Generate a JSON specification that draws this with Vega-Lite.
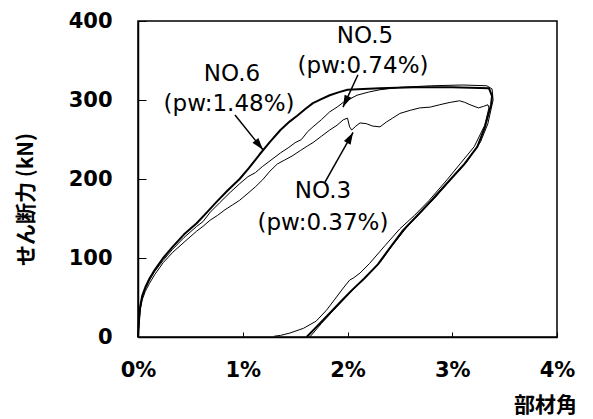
{
  "$schema": "https://vega.github.io/schema/vega-lite/v6.json",
  "width": 419,
  "height": 316,
  "autosize": {"type": "none"},
  "padding": {"left": 138, "top": 21, "right": 36, "bottom": 82},
  "background": "white",
  "config": {
    "view": {"stroke": "black", "strokeWidth": 1.5},
    "axis": {
      "domainColor": "black",
      "domainWidth": 1.5,
      "tickColor": "black",
      "tickWidth": 1,
      "grid": false,
      "labelColor": "black",
      "labelFont": "DejaVu Sans",
      "labelFontWeight": "bold",
      "labelFontSize": 21,
      "titleColor": "black",
      "titleFont": "Noto Sans CJK JP",
      "titleFontWeight": "bold",
      "titleFontSize": 21
    }
  },
  "datasets": {
    "curves": [
      {"series": "NO.6", "i": 0, "x": 0, "y": 0},
      {"series": "NO.6", "i": 1, "x": 0.01, "y": 22},
      {"series": "NO.6", "i": 2, "x": 0.02, "y": 38},
      {"series": "NO.6", "i": 3, "x": 0.04, "y": 52},
      {"series": "NO.6", "i": 4, "x": 0.07, "y": 63},
      {"series": "NO.6", "i": 5, "x": 0.11, "y": 74},
      {"series": "NO.6", "i": 6, "x": 0.16, "y": 85},
      {"series": "NO.6", "i": 7, "x": 0.24, "y": 100},
      {"series": "NO.6", "i": 8, "x": 0.33, "y": 114},
      {"series": "NO.6", "i": 9, "x": 0.44, "y": 130},
      {"series": "NO.6", "i": 10, "x": 0.56, "y": 144},
      {"series": "NO.6", "i": 11, "x": 0.66, "y": 158},
      {"series": "NO.6", "i": 12, "x": 0.75, "y": 171},
      {"series": "NO.6", "i": 13, "x": 0.86, "y": 186},
      {"series": "NO.6", "i": 14, "x": 0.97, "y": 200},
      {"series": "NO.6", "i": 15, "x": 1.06, "y": 214},
      {"series": "NO.6", "i": 16, "x": 1.16, "y": 231},
      {"series": "NO.6", "i": 17, "x": 1.26, "y": 247},
      {"series": "NO.6", "i": 18, "x": 1.36, "y": 262},
      {"series": "NO.6", "i": 19, "x": 1.45, "y": 273},
      {"series": "NO.6", "i": 20, "x": 1.52, "y": 280},
      {"series": "NO.6", "i": 21, "x": 1.6, "y": 289},
      {"series": "NO.6", "i": 22, "x": 1.67, "y": 296},
      {"series": "NO.6", "i": 23, "x": 1.75, "y": 301},
      {"series": "NO.6", "i": 24, "x": 1.83, "y": 306},
      {"series": "NO.6", "i": 25, "x": 1.92, "y": 310},
      {"series": "NO.6", "i": 26, "x": 2.0, "y": 313},
      {"series": "NO.6", "i": 27, "x": 2.15, "y": 314},
      {"series": "NO.6", "i": 28, "x": 2.31, "y": 315},
      {"series": "NO.6", "i": 29, "x": 2.63, "y": 316},
      {"series": "NO.6", "i": 30, "x": 3.0, "y": 316},
      {"series": "NO.6", "i": 31, "x": 3.35, "y": 315},
      {"series": "NO.6", "i": 32, "x": 3.38, "y": 305},
      {"series": "NO.6", "i": 33, "x": 3.37, "y": 294},
      {"series": "NO.6", "i": 34, "x": 3.31, "y": 265},
      {"series": "NO.6", "i": 35, "x": 3.24, "y": 241},
      {"series": "NO.6", "i": 36, "x": 3.11, "y": 218},
      {"series": "NO.6", "i": 37, "x": 2.98, "y": 199},
      {"series": "NO.6", "i": 38, "x": 2.81, "y": 174},
      {"series": "NO.6", "i": 39, "x": 2.66, "y": 153},
      {"series": "NO.6", "i": 40, "x": 2.53, "y": 135},
      {"series": "NO.6", "i": 41, "x": 2.4, "y": 112},
      {"series": "NO.6", "i": 42, "x": 2.29, "y": 92},
      {"series": "NO.6", "i": 43, "x": 2.16, "y": 74},
      {"series": "NO.6", "i": 44, "x": 2.04, "y": 59},
      {"series": "NO.6", "i": 45, "x": 1.93, "y": 44},
      {"series": "NO.6", "i": 46, "x": 1.83, "y": 30},
      {"series": "NO.6", "i": 47, "x": 1.72, "y": 15},
      {"series": "NO.6", "i": 48, "x": 1.61, "y": 0},

      {"series": "NO.5", "i": 0, "x": 0, "y": 0},
      {"series": "NO.5", "i": 1, "x": 0.01, "y": 20},
      {"series": "NO.5", "i": 2, "x": 0.02, "y": 36},
      {"series": "NO.5", "i": 3, "x": 0.04, "y": 50},
      {"series": "NO.5", "i": 4, "x": 0.07, "y": 61},
      {"series": "NO.5", "i": 5, "x": 0.11, "y": 72},
      {"series": "NO.5", "i": 6, "x": 0.16, "y": 83},
      {"series": "NO.5", "i": 7, "x": 0.24, "y": 97},
      {"series": "NO.5", "i": 8, "x": 0.33, "y": 111},
      {"series": "NO.5", "i": 9, "x": 0.44, "y": 126},
      {"series": "NO.5", "i": 10, "x": 0.56, "y": 140},
      {"series": "NO.5", "i": 11, "x": 0.62, "y": 146},
      {"series": "NO.5", "i": 12, "x": 0.69, "y": 158},
      {"series": "NO.5", "i": 13, "x": 0.78, "y": 170},
      {"series": "NO.5", "i": 14, "x": 0.88, "y": 183},
      {"series": "NO.5", "i": 15, "x": 0.97, "y": 194},
      {"series": "NO.5", "i": 16, "x": 1.05, "y": 203},
      {"series": "NO.5", "i": 17, "x": 1.12, "y": 208},
      {"series": "NO.5", "i": 18, "x": 1.19, "y": 216},
      {"series": "NO.5", "i": 19, "x": 1.27, "y": 224},
      {"series": "NO.5", "i": 20, "x": 1.36, "y": 233},
      {"series": "NO.5", "i": 21, "x": 1.44, "y": 240},
      {"series": "NO.5", "i": 22, "x": 1.5, "y": 246},
      {"series": "NO.5", "i": 23, "x": 1.56, "y": 250},
      {"series": "NO.5", "i": 24, "x": 1.62, "y": 260},
      {"series": "NO.5", "i": 25, "x": 1.67, "y": 266},
      {"series": "NO.5", "i": 26, "x": 1.75, "y": 275},
      {"series": "NO.5", "i": 27, "x": 1.83, "y": 285},
      {"series": "NO.5", "i": 28, "x": 1.9, "y": 291},
      {"series": "NO.5", "i": 29, "x": 1.96, "y": 297},
      {"series": "NO.5", "i": 30, "x": 2.02, "y": 301},
      {"series": "NO.5", "i": 31, "x": 2.09, "y": 306},
      {"series": "NO.5", "i": 32, "x": 2.2, "y": 310},
      {"series": "NO.5", "i": 33, "x": 2.31, "y": 313},
      {"series": "NO.5", "i": 34, "x": 2.5, "y": 316},
      {"series": "NO.5", "i": 35, "x": 2.8, "y": 318},
      {"series": "NO.5", "i": 36, "x": 3.1, "y": 319},
      {"series": "NO.5", "i": 37, "x": 3.33, "y": 318},
      {"series": "NO.5", "i": 38, "x": 3.38, "y": 314},
      {"series": "NO.5", "i": 39, "x": 3.39, "y": 300},
      {"series": "NO.5", "i": 40, "x": 3.34, "y": 270},
      {"series": "NO.5", "i": 41, "x": 3.27, "y": 247},
      {"series": "NO.5", "i": 42, "x": 3.14, "y": 222},
      {"series": "NO.5", "i": 43, "x": 3.01, "y": 203},
      {"series": "NO.5", "i": 44, "x": 2.84, "y": 177},
      {"series": "NO.5", "i": 45, "x": 2.69, "y": 156},
      {"series": "NO.5", "i": 46, "x": 2.56, "y": 138},
      {"series": "NO.5", "i": 47, "x": 2.43, "y": 116},
      {"series": "NO.5", "i": 48, "x": 2.32, "y": 96},
      {"series": "NO.5", "i": 49, "x": 2.19, "y": 78},
      {"series": "NO.5", "i": 50, "x": 2.07, "y": 62},
      {"series": "NO.5", "i": 51, "x": 1.96, "y": 47},
      {"series": "NO.5", "i": 52, "x": 1.86, "y": 33},
      {"series": "NO.5", "i": 53, "x": 1.75, "y": 17},
      {"series": "NO.5", "i": 54, "x": 1.64, "y": 0},

      {"series": "NO.3", "i": 0, "x": 0, "y": 0},
      {"series": "NO.3", "i": 1, "x": 0.01, "y": 18},
      {"series": "NO.3", "i": 2, "x": 0.02, "y": 33},
      {"series": "NO.3", "i": 3, "x": 0.04, "y": 47},
      {"series": "NO.3", "i": 4, "x": 0.07, "y": 58},
      {"series": "NO.3", "i": 5, "x": 0.11, "y": 68},
      {"series": "NO.3", "i": 6, "x": 0.16, "y": 79},
      {"series": "NO.3", "i": 7, "x": 0.24, "y": 94},
      {"series": "NO.3", "i": 8, "x": 0.33, "y": 107},
      {"series": "NO.3", "i": 9, "x": 0.44, "y": 120},
      {"series": "NO.3", "i": 10, "x": 0.56, "y": 134},
      {"series": "NO.3", "i": 11, "x": 0.62, "y": 140},
      {"series": "NO.3", "i": 12, "x": 0.69, "y": 148},
      {"series": "NO.3", "i": 13, "x": 0.76, "y": 154},
      {"series": "NO.3", "i": 14, "x": 0.83, "y": 161},
      {"series": "NO.3", "i": 15, "x": 0.9, "y": 167},
      {"series": "NO.3", "i": 16, "x": 0.97, "y": 173},
      {"series": "NO.3", "i": 17, "x": 1.05, "y": 182},
      {"series": "NO.3", "i": 18, "x": 1.12, "y": 190},
      {"series": "NO.3", "i": 19, "x": 1.19, "y": 199},
      {"series": "NO.3", "i": 20, "x": 1.26, "y": 210},
      {"series": "NO.3", "i": 21, "x": 1.33, "y": 219},
      {"series": "NO.3", "i": 22, "x": 1.4, "y": 224},
      {"series": "NO.3", "i": 23, "x": 1.47, "y": 229},
      {"series": "NO.3", "i": 24, "x": 1.55, "y": 236},
      {"series": "NO.3", "i": 25, "x": 1.62, "y": 242},
      {"series": "NO.3", "i": 26, "x": 1.67, "y": 246},
      {"series": "NO.3", "i": 27, "x": 1.75, "y": 254},
      {"series": "NO.3", "i": 28, "x": 1.83, "y": 262},
      {"series": "NO.3", "i": 29, "x": 1.9, "y": 268},
      {"series": "NO.3", "i": 30, "x": 1.96, "y": 275},
      {"series": "NO.3", "i": 31, "x": 2.0, "y": 277},
      {"series": "NO.3", "i": 32, "x": 2.02, "y": 266},
      {"series": "NO.3", "i": 33, "x": 2.04, "y": 262},
      {"series": "NO.3", "i": 34, "x": 2.08, "y": 267},
      {"series": "NO.3", "i": 35, "x": 2.12, "y": 271},
      {"series": "NO.3", "i": 36, "x": 2.18, "y": 270},
      {"series": "NO.3", "i": 37, "x": 2.24, "y": 267},
      {"series": "NO.3", "i": 38, "x": 2.31, "y": 266},
      {"series": "NO.3", "i": 39, "x": 2.37, "y": 272},
      {"series": "NO.3", "i": 40, "x": 2.43, "y": 277},
      {"series": "NO.3", "i": 41, "x": 2.5, "y": 283},
      {"series": "NO.3", "i": 42, "x": 2.6, "y": 287},
      {"series": "NO.3", "i": 43, "x": 2.69, "y": 290},
      {"series": "NO.3", "i": 44, "x": 2.79, "y": 291},
      {"series": "NO.3", "i": 45, "x": 2.88, "y": 294},
      {"series": "NO.3", "i": 46, "x": 2.98, "y": 297},
      {"series": "NO.3", "i": 47, "x": 3.07, "y": 299},
      {"series": "NO.3", "i": 48, "x": 3.12, "y": 297},
      {"series": "NO.3", "i": 49, "x": 3.17, "y": 294},
      {"series": "NO.3", "i": 50, "x": 3.25, "y": 290},
      {"series": "NO.3", "i": 51, "x": 3.3, "y": 292},
      {"series": "NO.3", "i": 52, "x": 3.34, "y": 294},
      {"series": "NO.3", "i": 53, "x": 3.35, "y": 290},
      {"series": "NO.3", "i": 54, "x": 3.31, "y": 268},
      {"series": "NO.3", "i": 55, "x": 3.21, "y": 241},
      {"series": "NO.3", "i": 56, "x": 3.08, "y": 220},
      {"series": "NO.3", "i": 57, "x": 2.95, "y": 199},
      {"series": "NO.3", "i": 58, "x": 2.78, "y": 173},
      {"series": "NO.3", "i": 59, "x": 2.64, "y": 154},
      {"series": "NO.3", "i": 60, "x": 2.5, "y": 137},
      {"series": "NO.3", "i": 61, "x": 2.36, "y": 116},
      {"series": "NO.3", "i": 62, "x": 2.21, "y": 93},
      {"series": "NO.3", "i": 63, "x": 2.12, "y": 81},
      {"series": "NO.3", "i": 64, "x": 2.06, "y": 75},
      {"series": "NO.3", "i": 65, "x": 2.02, "y": 72},
      {"series": "NO.3", "i": 66, "x": 1.96, "y": 62},
      {"series": "NO.3", "i": 67, "x": 1.88, "y": 48},
      {"series": "NO.3", "i": 68, "x": 1.8, "y": 34},
      {"series": "NO.3", "i": 69, "x": 1.7, "y": 20},
      {"series": "NO.3", "i": 70, "x": 1.58, "y": 11},
      {"series": "NO.3", "i": 71, "x": 1.45, "y": 5},
      {"series": "NO.3", "i": 72, "x": 1.36, "y": 2},
      {"series": "NO.3", "i": 73, "x": 1.3, "y": 1}
    ],
    "labels": [
      {"text": "NO.6", "x": 0.897, "y": 333},
      {"text": "(pw:1.48%)", "x": 0.869, "y": 295},
      {"text": "NO.5", "x": 2.167, "y": 381},
      {"text": "(pw:0.74%)", "x": 2.148, "y": 343},
      {"text": "NO.3", "x": 1.766, "y": 185},
      {"text": "(pw:0.37%)", "x": 1.766, "y": 144}
    ],
    "arrows": [
      {"series": "NO.6", "x": 0.926, "y": 281, "x2": 1.193, "y2": 237},
      {"series": "NO.5", "x": 2.1, "y": 332, "x2": 1.957, "y2": 291},
      {"series": "NO.3", "x": 1.785, "y": 196, "x2": 2.053, "y2": 259}
    ]
  },
  "encoding": {
    "x": {
      "field": "x",
      "type": "quantitative",
      "scale": {"domain": [0, 4], "nice": false, "zero": false},
      "axis": {
        "title": "部材角",
        "values": [0, 1, 2, 3, 4],
        "labelExpr": "datum.value + '%'",
        "tickSize": -5,
        "labelPadding": 38,
        "labelBaseline": "middle",
        "labelAlign": "center",
        "titleX": 407,
        "titleY": 68,
        "titleAlign": "center",
        "titleBaseline": "middle",
        "titleAnchor": null,
        "titleFontSize": 21
      }
    },
    "y": {
      "field": "y",
      "type": "quantitative",
      "scale": {"domain": [0, 400], "nice": false, "zero": false},
      "axis": {
        "title": "せん断力 (kN)",
        "values": [0, 100, 200, 300, 400],
        "tickSize": -8,
        "labelPadding": 34,
        "labelBaseline": "middle",
        "titleX": -112,
        "titleY": 178,
        "titleAngle": -90,
        "titleAlign": "center",
        "titleBaseline": "middle",
        "titleAnchor": null
      }
    }
  },
  "layer": [
    {
      "data": {"name": "curves"},
      "transform": [{"filter": "datum.series !== 'NO.6'"}],
      "mark": {"type": "line", "color": "black", "strokeWidth": 1, "strokeJoin": "round"},
      "encoding": {
        "detail": {"field": "series"},
        "order": {"field": "i", "type": "quantitative"}
      }
    },
    {
      "data": {"name": "curves"},
      "transform": [{"filter": "datum.series === 'NO.6'"}],
      "mark": {"type": "line", "color": "black", "strokeWidth": 2, "strokeJoin": "round"},
      "encoding": {
        "order": {"field": "i", "type": "quantitative"}
      }
    },
    {
      "data": {"name": "arrows"},
      "mark": {"type": "rule", "color": "black", "strokeWidth": 1.5},
      "encoding": {
        "x2": {"field": "x2"},
        "y2": {"field": "y2"}
      }
    },
    {
      "data": {"name": "arrows"},
      "transform": [{"filter": "datum.series === 'NO.6'"}],
      "mark": {"type": "point", "shape": "M0,0L-0.38,1.2L0.38,1.2Z", "filled": true, "color": "black", "opacity": 1, "size": 400, "angle": 141},
      "encoding": {
        "x": {"field": "x2", "type": "quantitative"},
        "y": {"field": "y2", "type": "quantitative"}
      }
    },
    {
      "data": {"name": "arrows"},
      "transform": [{"filter": "datum.series === 'NO.5'"}],
      "mark": {"type": "point", "shape": "M0,0L-0.38,1.2L0.38,1.2Z", "filled": true, "color": "black", "opacity": 1, "size": 400, "angle": 205},
      "encoding": {
        "x": {"field": "x2", "type": "quantitative"},
        "y": {"field": "y2", "type": "quantitative"}
      }
    },
    {
      "data": {"name": "arrows"},
      "transform": [{"filter": "datum.series === 'NO.3'"}],
      "mark": {"type": "point", "shape": "M0,0L-0.38,1.2L0.38,1.2Z", "filled": true, "color": "black", "opacity": 1, "size": 400, "angle": 29},
      "encoding": {
        "x": {"field": "x2", "type": "quantitative"},
        "y": {"field": "y2", "type": "quantitative"}
      }
    },
    {
      "data": {"name": "labels"},
      "mark": {"type": "text", "font": "DejaVu Sans", "fontSize": 23, "color": "black", "align": "center", "baseline": "middle"},
      "encoding": {
        "text": {"field": "text"}
      }
    }
  ]
}
